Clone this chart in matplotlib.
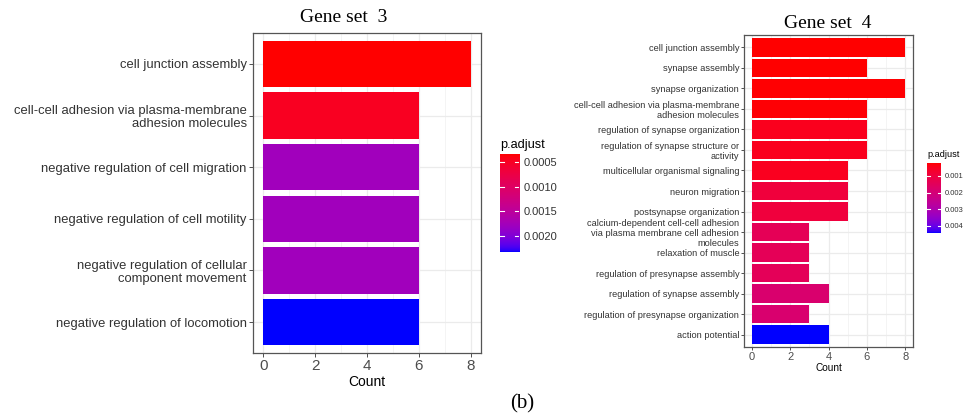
import numpy as np
import matplotlib
matplotlib.use("Agg")
import matplotlib.pyplot as plt
from matplotlib.colors import ListedColormap, Normalize, to_rgb

# ---- data -------------------------------------------------------------
set3_terms = [
    "cell junction assembly",
    "cell-cell adhesion via plasma-membrane\nadhesion molecules",
    "negative regulation of cell migration",
    "negative regulation of cell motility",
    "negative regulation of cellular\ncomponent movement",
    "negative regulation of locomotion",
]
set3_counts = [8, 6, 6, 6, 6, 6]
set3_padj = [0.00034, 0.00048, 0.00177, 0.00177, 0.00177, 0.00232]
set3_cbar_ticks = [0.0005, 0.0010, 0.0015, 0.0020]
set3_cbar_labels = ["0.0005", "0.0010", "0.0015", "0.0020"]

set4_terms = [
    "cell junction assembly",
    "synapse assembly",
    "synapse organization",
    "cell-cell adhesion via plasma-membrane\nadhesion molecules",
    "regulation of synapse organization",
    "regulation of synapse structure or\nactivity",
    "multicellular organismal signaling",
    "neuron migration",
    "postsynapse organization",
    "calcium-dependent cell-cell adhesion\nvia plasma membrane cell adhesion\nmolecules",
    "relaxation of muscle",
    "regulation of presynapse assembly",
    "regulation of synapse assembly",
    "regulation of presynapse organization",
    "action potential",
]
set4_counts = [8, 6, 8, 6, 6, 6, 5, 5, 5, 3, 3, 3, 4, 3, 4]
set4_padj = [0.00022, 0.00023, 0.00024, 0.00026, 0.00047, 0.00048, 0.00050,
             0.00094, 0.00096, 0.00140, 0.00142, 0.00143, 0.00182, 0.00185,
             0.00444]
set4_cbar_ticks = [0.001, 0.002, 0.003, 0.004]
set4_cbar_labels = ["0.001", "0.002", "0.003", "0.004"]

count_ticks = [0, 2, 4, 6, 8]


# ---- red -> blue gradient interpolated in CIELAB ----------------------
_M = np.array([[0.4124564, 0.3575761, 0.1804375],
               [0.2126729, 0.7151522, 0.0721750],
               [0.0193339, 0.1191920, 0.9503041]])
_WHITE = np.array([0.95047, 1.0, 1.08883])


def srgb_to_lab(rgb):
    rgb = np.asarray(rgb, float)
    lin = np.where(rgb <= 0.04045, rgb / 12.92, ((rgb + 0.055) / 1.055) ** 2.4)
    xyz = _M @ lin / _WHITE
    f = np.where(xyz > (6 / 29) ** 3, np.cbrt(xyz), xyz / (3 * (6 / 29) ** 2) + 4 / 29)
    return np.array([116 * f[1] - 16, 500 * (f[0] - f[1]), 200 * (f[1] - f[2])])


def lab_to_srgb(lab):
    L, a, b = lab
    fy = (L + 16) / 116
    fx = fy + a / 500
    fz = fy - b / 200
    f = np.array([fx, fy, fz])
    xyz = np.where(f > 6 / 29, f ** 3, 3 * (6 / 29) ** 2 * (f - 4 / 29)) * _WHITE
    lin = np.linalg.solve(_M, xyz)
    lin = np.clip(lin, 0, 1)
    rgb = np.where(lin <= 0.0031308, 12.92 * lin, 1.055 * lin ** (1 / 2.4) - 0.055)
    return np.clip(rgb, 0, 1)


def lab_ramp(low, high, n=256):
    l0, l1 = srgb_to_lab(to_rgb(low)), srgb_to_lab(to_rgb(high))
    return ListedColormap([lab_to_srgb(l0 + (l1 - l0) * t) for t in np.linspace(0, 1, n)])


cmap = lab_ramp("#FF0000", "#0000FF")

plt.rcParams["font.family"] = ["Liberation Sans", "DejaVu Sans"]

fig = plt.figure(figsize=(9.65, 4.19), dpi=100)
W, H = 965.0, 419.0


def px_axes(x0, y0, x1, y1):
    return fig.add_axes([x0 / W, 1 - y1 / H, (x1 - x0) / W, (y1 - y0) / H])


def draw_panel(ax, terms, counts, padj, ylab_size, xtick_size, xlab_size, tick_len):
    n = len(terms)
    norm = Normalize(vmin=min(padj), vmax=max(padj))
    y = np.arange(n)
    ax.barh(y, counts, height=0.9, color=cmap(norm(padj)), zorder=3)
    ax.set_xlim(-0.4, 8.4)
    ax.set_ylim(n - 0.4, -0.6)
    ax.set_yticks(y)
    ax.set_yticklabels(terms, fontsize=ylab_size, color="#333333", linespacing=1.15)
    ax.set_xticks(count_ticks)
    ax.set_xticklabels([str(v) for v in count_ticks], fontsize=xtick_size, color="#4D4D4D")
    ax.set_xticks([1, 3, 5, 7], minor=True)
    ax.grid(True, which="major", color="#EBEBEB", lw=0.9, zorder=0)
    ax.grid(True, which="minor", axis="x", color="#F3F3F3", lw=0.6, zorder=0)
    ax.set_axisbelow(True)
    ax.tick_params(which="major", length=tick_len, width=0.6, color="#333333", pad=1.5)
    ax.tick_params(which="minor", length=0)
    for s in ax.spines.values():
        s.set_color("#555555")
        s.set_linewidth(0.9)
    ax.set_xlabel("Count", fontsize=xlab_size, labelpad=1)
    return norm


def draw_cbar(cax, norm, ticks, labels, title, title_size, label_size):
    grad = np.linspace(norm.vmin, norm.vmax, 256)[:, None]
    cax.imshow(grad, aspect="auto", cmap=cmap, norm=norm, origin="lower",
               extent=(0, 1, norm.vmin, norm.vmax))
    cax.set_ylim(norm.vmax, norm.vmin)
    cax.set_xlim(0, 1)
    for t in ticks:
        cax.plot([0, 0.2], [t, t], color="white", lw=0.8)
        cax.plot([0.8, 1], [t, t], color="white", lw=0.8)
    cax.set_xticks([])
    cax.yaxis.tick_right()
    cax.set_yticks(ticks)
    cax.set_yticklabels(labels, fontsize=label_size, color="#333333")
    cax.tick_params(axis="y", length=0, pad=3)
    for s in cax.spines.values():
        s.set_visible(False)
    cax.set_title(title, fontsize=title_size, loc="left", pad=4, x=0)


# Gene set 3
ax3 = px_axes(253, 33, 481, 353)
norm3 = draw_panel(ax3, set3_terms, set3_counts, set3_padj, 9.4, 11, 10, 3)
cax3 = px_axes(500, 154, 519, 252)
draw_cbar(cax3, norm3, set3_cbar_ticks, set3_cbar_labels, "p.adjust", 9.2, 8)

# Gene set 4
ax4 = px_axes(744, 35, 913, 347)
norm4 = draw_panel(ax4, set4_terms, set4_counts, set4_padj, 6.7, 8, 7.2, 2)
cax4 = px_axes(927, 163, 941, 233)
draw_cbar(cax4, norm4, set4_cbar_ticks, set4_cbar_labels, "p.adjust", 6.6, 5.5)

serif = ["Liberation Serif", "DejaVu Serif"]
fig.text(344 / W, 1 - 18 / H, "Gene set  3", family=serif, fontsize=14,
         ha="center", va="center")
fig.text(828 / W, 1 - 23 / H, "Gene set  4", family=serif, fontsize=14,
         ha="center", va="center")
fig.text(522 / W, 1 - 404 / H, "(b)", family=serif, fontsize=15,
         ha="center", va="center")

fig.savefig("out.png", dpi=100, facecolor="white")
